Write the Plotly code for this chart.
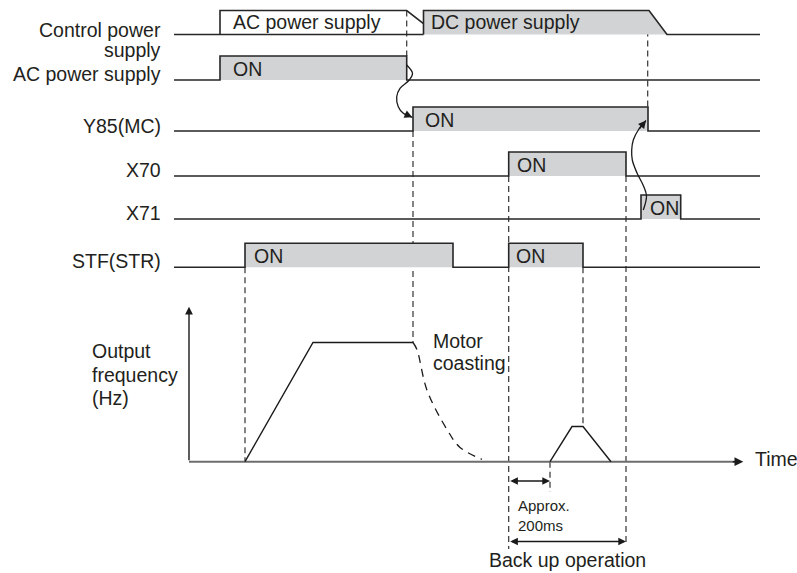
import math
import plotly.graph_objects as go

# ---------------- data (time positions) ----------------
row_labels = ["Control power", "supply", "AC power supply", "Y85(MC)", "X70", "X71", "STF(STR)"]
control_ac_on = [220, 406.7]          # control power fed from AC power supply
control_dc_on = [423.5, 649]          # control power fed from DC power supply
control_dc_fall_end = 667
ac_supply_on = [[220, 406.7]]
y85_on = [[413, 648]]
x70_on = [[508.7, 626]]
x71_on = [[641, 680.7]]
stf_on = [[245, 453], [508.7, 583]]

freq_run_t = [245, 313, 413]
freq_run_v = [0.0, 1.0, 1.0]
coast_t = [413, 417, 427, 447, 460, 482]
coast_v = [1.0, 0.94, 0.60, 0.27, 0.12, 0.02]
freq_backup_t = [550, 572, 583, 611]
freq_backup_v = [0.0, 0.295, 0.295, 0.0]
approx_200ms_span = [508.7, 550]
backup_span = [508.7, 626]

# ---------------- layout / style constants ----------------
W, H = 797, 573
LINE = "#262626"
GUIDE = "#333333"
FILL = "#d2d3d5"
TXT = "#231f20"
FONT = "Liberation Sans, Arial, Helvetica, sans-serif"
FS = 19.5
t_left, t_right = 174, 760
base = {"ctrl": 34.5, "ac": 80, "y85": 131, "x70": 176, "x71": 219, "stf": 267.3}
box_h = 24
f_base_px, f_top_px = 461.7, 342.5
axis_x, axis_end, f_axis_top = 189, 743.3, 1.30

# y2 range so that value 0 / 1 land on f_base_px / f_top_px
fr0 = (H - f_base_px) / H
fr1 = (H - f_top_px) / H
span = 1.0 / (fr1 - fr0)
y2_lo = -fr0 * span
y2_hi = y2_lo + span


def f2px(v):
    return f_base_px - v * (f_base_px - f_top_px)


fig = go.Figure()


def add(x, y, yaxis="y", color=LINE, width=1.6, dash=None, shape="linear", fill=None):
    if fill:
        fig.add_trace(go.Scatter(x=x, y=y, yaxis=yaxis, mode="none", fill="toself",
                                 fillcolor=fill, hoverinfo="skip", showlegend=False))
    else:
        fig.add_trace(go.Scatter(x=x, y=y, yaxis=yaxis, mode="lines",
                                 line=dict(color=color, width=width, dash=dash, shape=shape),
                                 hoverinfo="skip", showlegend=False))


def pulse_row(intervals, b):
    top = b - box_h
    for a, c in intervals:
        add([a, a, c, c, a], [b, top, top, b, b], fill=FILL)
    xs, ys = [t_left], [b]
    for a, c in intervals:
        xs += [a, a, c, c]
        ys += [b, top, top, b]
    xs.append(t_right)
    ys.append(b)
    add(xs, ys)


# control power row
b = base["ctrl"]
top = b - box_h
add([control_dc_on[0], control_dc_on[0], control_dc_on[1], control_dc_fall_end],
    [b, top, top, b], fill=FILL)
add([t_left, control_dc_on[0]], [b, b])
add([control_ac_on[0], control_ac_on[0], control_ac_on[1], control_dc_on[0]],
    [b, top, top, top + 0.55 * box_h])
add([control_dc_on[0], control_dc_on[0], control_dc_on[1], control_dc_fall_end, t_right],
    [b, top, top, b, b])

pulse_row(ac_supply_on, base["ac"])
pulse_row(y85_on, base["y85"])
pulse_row(x70_on, base["x70"])
pulse_row(x71_on, base["x71"])
pulse_row(stf_on, base["stf"])

# output frequency
add([axis_x, axis_end - 6], [0, 0], yaxis="y2", color="#6d6d6d", width=2)
add(freq_run_t, freq_run_v, yaxis="y2", color="#1a1a1a", width=1.4)
add(coast_t, coast_v, yaxis="y2", color="#1a1a1a", width=1.3, dash="8px,6px", shape="spline")
add(freq_backup_t, freq_backup_v, yaxis="y2", color="#1a1a1a", width=1.4)

# curved cause/effect arrows
curve1_x = [406.7, 412.5, 409.3, 400, 396.7, 398.3, 403.3, 412.3]
curve1_y = [65, 73.3, 80, 88.3, 96.7, 106.7, 113.3, 117.3]
curve2_x = [643.3, 646.5, 643.5, 637, 632.3, 631.7, 633.3, 638.3, 646]
curve2_y = [210, 196, 186, 173, 160, 150, 140, 130, 120.5]
add(curve1_x, curve1_y, color="#1a1a1a", width=1.3, shape="spline")
add(curve2_x, curve2_y, color="#1a1a1a", width=1.3, shape="spline")

# dashed guides (x, top, bottom) in pixel-row coordinates
guides = [
    (ac_supply_on[0][1], base["ctrl"] - box_h, base["ac"] - box_h),
    (control_dc_on[1] - 1.3, base["ctrl"] - box_h, base["y85"] - box_h),
    (y85_on[0][0], base["y85"], f2px(freq_run_v[-1])),
    (stf_on[0][0], base["stf"], f2px(0)),
    (x70_on[0][0], base["x70"], 549),
    (stf_on[1][1], base["stf"], f2px(freq_backup_v[2])),
    (x70_on[0][1], base["x70"], 546),
    (approx_200ms_span[1], f2px(0), 492),
]
shapes = []
for gx, y0, y1 in guides:
    shapes.append(dict(type="line", xref="x", yref="y", x0=gx, x1=gx, y0=y0, y1=y1,
                       line=dict(color=GUIDE, width=1.2, dash="6px,4px"), layer="below"))

ann = []


def txt(x, y, s, anchor="left", size=FS):
    ann.append(dict(x=x, y=y - 1, xref="x", yref="y", text=s, showarrow=False,
                    xanchor=anchor, yanchor="middle",
                    font=dict(family=FONT, size=size, color=TXT)))


def arrow(x, y, ax, ay, yref="y", color="#1a1a1a", width=1.4, size=1.1, side="end"):
    ann.append(dict(x=x, y=y, ax=ax, ay=ay, xref="x", yref=yref, axref="x", ayref=yref,
                    text="", showarrow=True, arrowhead=2, arrowsize=size,
                    arrowwidth=width, arrowcolor=color, arrowside=side))


# row labels
label_y = [31, 51.2, 75, 126.7, 170.5, 214, 261.5]
for s, yy in zip(row_labels, label_y):
    txt(163, yy, s, anchor="right")

# texts inside boxes
txt(control_ac_on[0] + 11.2, 22.5, "AC power supply")
txt(control_dc_on[0] + 5.5, 22.5, "DC power supply")
on_boxes = [(ac_supply_on[0][0], base["ac"], 10.5), (y85_on[0][0], base["y85"], 9.5),
            (x70_on[0][0], base["x70"], 6.5), (x71_on[0][0], base["x71"], 7),
            (stf_on[0][0], base["stf"], 6.5), (stf_on[1][0], base["stf"], 5.5)]
for bx, bb, pad in on_boxes:
    txt(bx + pad, bb - box_h / 2 + 1.5, "ON")

txt(431, 341.7, "Motor")
txt(431, 363.5, "coasting")
txt(90, 351.5, "Output")
txt(90, 375.5, "frequency")
txt(90, 398.5, "(Hz)")
txt(752.7, 459.7, "Time")
txt(516, 506.7, "Approx.", size=15)
txt(516, 526.5, "200ms", size=15)
txt(487, 561, "Back up operation", size=19.5)

# arrows
arrow(axis_x, f_axis_top, axis_x, 0, yref="y2", width=1.4)
arrow(axis_end, 0, axis_end - 12, 0, yref="y2", width=1.6)
arrow(curve1_x[-1], curve1_y[-1], curve1_x[-2], curve1_y[-2], width=1.3, size=1.2)
arrow(curve2_x[-1], curve2_y[-1], curve2_x[-2], curve2_y[-2], width=1.3, size=1.2)
arrow(approx_200ms_span[1], 481, approx_200ms_span[0], 481, width=1.4, side="end+start")
arrow(backup_span[1], 541.5, backup_span[0], 541.5, width=1.4, side="end+start")

fig.update_layout(
    width=W, height=H, margin=dict(l=0, r=0, t=0, b=0),
    paper_bgcolor="white", plot_bgcolor="white",
    xaxis=dict(range=[0, W], visible=False, fixedrange=True),
    yaxis=dict(range=[H, 0], visible=False, fixedrange=True),
    yaxis2=dict(range=[y2_lo, y2_hi], overlaying="y", visible=False, fixedrange=True),
    shapes=shapes, annotations=ann, showlegend=False,
)

fig.write_html("out.html", config={"displayModeBar": False},
               post_script="document.body.style.margin='0';document.body.style.overflow='hidden';")
